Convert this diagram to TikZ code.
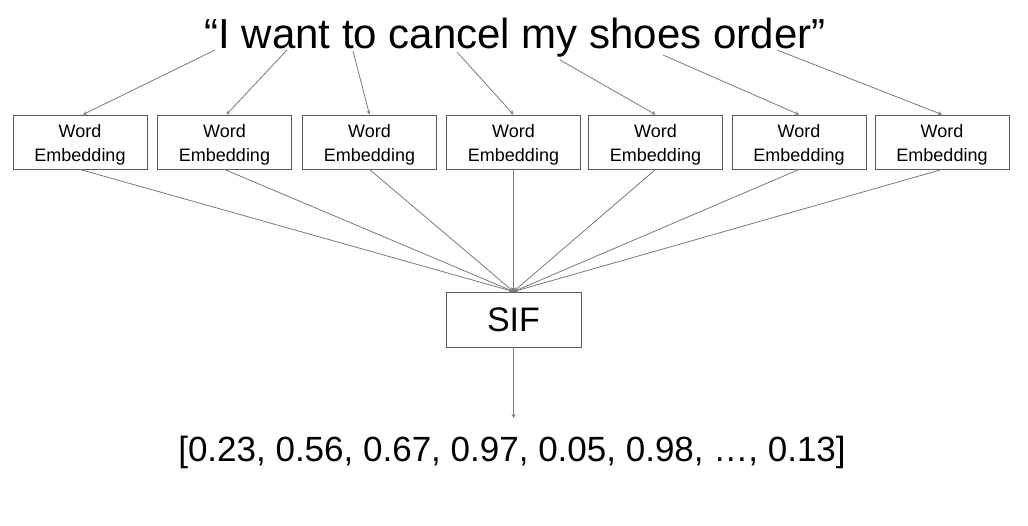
\documentclass[tikz,border=0pt]{standalone}
\usepackage{fontspec}
\setmainfont{Liberation Sans}
\usetikzlibrary{positioning}
\definecolor{linegray}{HTML}{7A7A7A}
\definecolor{boxgray}{HTML}{5A5A5A}
\newcommand{\embtext}{\rule{0pt}{19.5pt}Word\\Embedding}
\tikzset{
    embbox/.style={draw=boxgray, line width=0.9pt, minimum width=134pt, minimum height=54pt,
        inner sep=0pt, align=center, font=\fontsize{18}{24}\selectfont},
    sifbox/.style={draw=boxgray, line width=0.9pt, minimum width=135pt, minimum height=55pt,
        inner sep=0pt, font=\fontsize{34}{40}\selectfont},
    feed/.style={->, line width=0.8pt, linegray}
}
\begin{document}
\begin{tikzpicture}[x=1pt, y=-1pt, >=stealth]
            \useasboundingbox (0, 0) rectangle (1028, 525);

            \node[anchor=base, font=\fontsize{42}{50}\selectfont] (sentence) at (515, 48)
                {“I want to cancel my shoes order”};

            % word positions under the sentence
            \coordinate (w1) at (215, 50);
            \coordinate (w2) at (287, 50);
            \coordinate (w3) at (353, 51);
            \coordinate (w4) at (457, 52);
            \coordinate (w5) at (560, 60);
            \coordinate (w6) at (663, 55);
            \coordinate (w7) at (777, 50);

            \node[embbox] (emb1) at (80, 142) {\embtext};
            \node[embbox] (emb2) at (224.5, 142) {\embtext};
            \node[embbox] (emb3) at (369.5, 142) {\embtext};
            \node[embbox] (emb4) at (513.5, 142) {\embtext};
            \node[embbox] (emb5) at (655.5, 142) {\embtext};
            \node[embbox] (emb6) at (799, 142) {\embtext};
            \node[embbox] (emb7) at (942, 142) {\embtext};

            \node[sifbox] (sif) at (513.5, 319.5) {SIF};
            \coordinate (out) at (513.5, 418);

            \node[font=\fontsize{35}{42}\selectfont] (vec) at (512, 452)
                {[0.23, 0.56, 0.67, 0.97, 0.05, 0.98, …, 0.13]};

            \draw[feed] (w1) -- ([xshift=3pt]emb1.north);
            \draw[feed] (w2) -- ([xshift=2pt]emb2.north);
            \draw[feed] (w3) -- (emb3.north);
            \draw[feed] (w4) -- (emb4.north);
            \draw[feed] (w5) -- (emb5.north);
            \draw[feed] (w6) -- (emb6.north);
            \draw[feed] (w7) -- (emb7.north);

            \draw[feed] (emb1.south) -- (sif.north);
            \draw[feed] (emb2.south) -- (sif.north);
            \draw[feed] (emb3.south) -- (sif.north);
            \draw[feed] (emb4.south) -- (sif.north);
            \draw[feed] (emb5.south) -- (sif.north);
            \draw[feed] (emb6.south) -- (sif.north);
            \draw[feed] (emb7.south) -- (sif.north);

            \draw[feed] (sif.south) -- (out);
        \end{tikzpicture}
\end{document}
